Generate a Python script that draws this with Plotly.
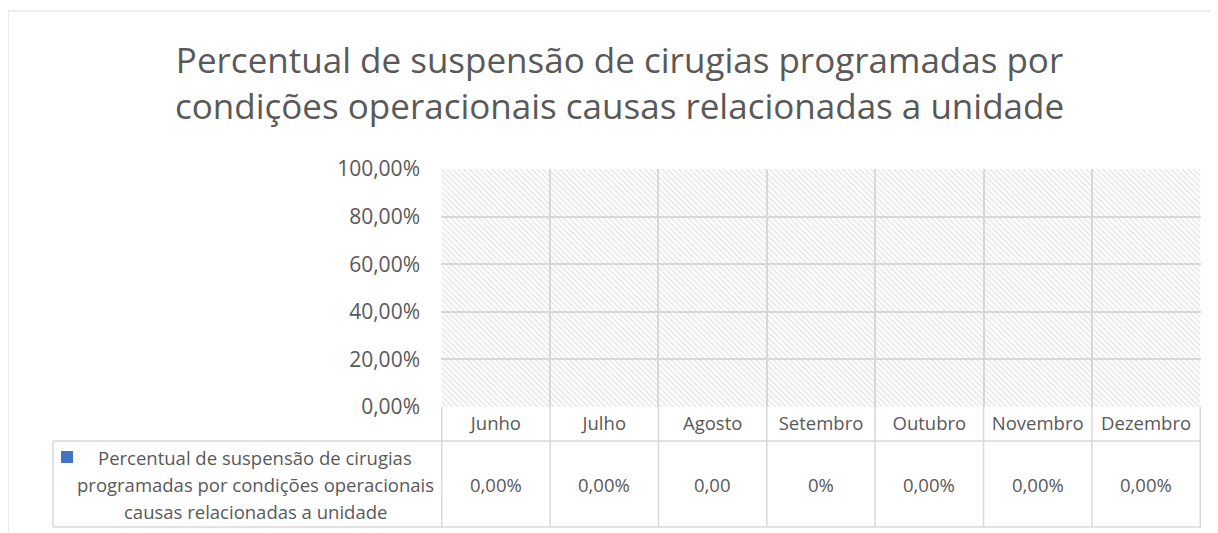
import plotly.graph_objects as go

# ---- data ----
months = ["Junho", "Julho", "Agosto", "Setembro", "Outubro", "Novembro", "Dezembro"]
values = [0, 0, 0, 0, 0, 0, 0]
value_labels = ["0,00%", "0,00%", "0,00", "0%", "0,00%", "0,00%", "0,00%"]
series_name = "Percentual de suspensão de cirugias programadas por condições operacionais causas relacionadas a unidade"
legend_lines = ["Percentual de suspensão de cirugias",
                "programadas por condições operacionais",
                "causas relacionadas a unidade"]
title_text = ("Percentual de suspensão de cirugias programadas por<br>"
              "condições operacionais causas relacionadas a unidade")
y_range = [0, 1]

# ---- styling ----
W, H = 1218, 533
OFF = 8  # page body margin compensation
FONT = "Open Sans"
TXT = "#595959"
GRID = "#D9D9D9"
SERIES_COLOR = "#4472C4"

def px(x):
    return (x - OFF) / W

def py(y):
    return 1 - (y - OFF) / H

PLOT_L, PLOT_R, PLOT_T, PLOT_B = 441, 1201, 169, 407
ROW1_B, ROW2_B = 441, 527
LEG_L = 53

fig = go.Figure()

# hatched plot-area background (Excel pattern fill), spans the axis range
fig.add_trace(go.Bar(
    x=months, y=[y_range[1]] * len(months), width=1,
    marker=dict(color="rgba(0,0,0,0)", line=dict(width=0),
                pattern=dict(shape="\\", fgcolor="#CFCFCF", bgcolor="rgba(0,0,0,0)",
                             size=4, solidity=0.4)),
    hoverinfo="skip", showlegend=False,
))

# data series
fig.add_trace(go.Bar(
    x=months, y=values, name=series_name,
    marker=dict(color=SERIES_COLOR, line=dict(width=0)),
    showlegend=False,
))

shapes = []
# chart frame (cut off on right/bottom)
shapes.append(dict(type="line", xref="paper", yref="paper", x0=px(8), x1=px(W + 20),
                   y0=py(11), y1=py(11), line=dict(color=GRID, width=1)))
shapes.append(dict(type="line", xref="paper", yref="paper", x0=px(8), x1=px(8),
                   y0=py(11), y1=py(H + 20), line=dict(color=GRID, width=1)))

# data table: vertical lines at category boundaries
for i in range(len(months) + 1):
    shapes.append(dict(type="line", xref="x", yref="paper", x0=i - 0.5, x1=i - 0.5,
                       y0=py(PLOT_B), y1=py(ROW2_B), line=dict(color=GRID, width=1.5)))
# horizontal table lines
for yy in (ROW1_B, ROW2_B):
    shapes.append(dict(type="line", xref="paper", yref="paper", x0=px(LEG_L), x1=px(PLOT_R),
                       y0=py(yy), y1=py(yy), line=dict(color=GRID, width=1.5)))
# legend cell left edge
shapes.append(dict(type="line", xref="paper", yref="paper", x0=px(LEG_L), x1=px(LEG_L),
                   y0=py(ROW1_B), y1=py(ROW2_B), line=dict(color=GRID, width=1.5)))
# legend key
shapes.append(dict(type="rect", xref="paper", yref="paper", x0=px(61), x1=px(73),
                   y0=py(451), y1=py(463), fillcolor=SERIES_COLOR, line=dict(width=0)))

annotations = []
# title
annotations.append(dict(text=title_text, xref="paper", yref="paper", x=px(619), y=py(82),
                        xanchor="center", yanchor="middle", showarrow=False, align="center",
                        font=dict(family=FONT, size=35, color=TXT)))
# legend text lines
for k, line in enumerate(legend_lines):
    annotations.append(dict(text=line, xref="paper", yref="paper", x=px(255), y=py(457 + 27 * k),
                            xanchor="center", yanchor="middle", showarrow=False,
                            font=dict(family=FONT, size=18.5, color=TXT)))
# value row
for m, lab in zip(months, value_labels):
    annotations.append(dict(text=lab, xref="x", yref="paper", x=m, y=py((ROW1_B + ROW2_B) / 2),
                            xanchor="center", yanchor="middle", showarrow=False,
                            font=dict(family=FONT, size=18.5, color=TXT)))

fig.update_layout(
    width=W, height=H,
    margin=dict(l=0, r=0, t=0, b=0, autoexpand=False),
    paper_bgcolor="white", plot_bgcolor="white",
    separators=",.",
    barmode="overlay",
    font=dict(family=FONT, color=TXT),
    shapes=shapes, annotations=annotations,
    xaxis=dict(domain=[px(PLOT_L), px(PLOT_R)], type="category", tickson="boundaries",
               automargin=False,
               showgrid=True, gridcolor=GRID, gridwidth=1.5, ticks="", showline=False,
               zeroline=False, tickfont=dict(family=FONT, size=18.5, color=TXT),
               ticklabelstandoff=3, fixedrange=True),
    yaxis=dict(domain=[py(PLOT_B), py(PLOT_T)], range=y_range, tickformat=".2%",
               automargin=False,
               dtick=0.2, tick0=0, showgrid=True, gridcolor=GRID, gridwidth=1.5,
               zeroline=False, showline=False, ticks="",
               tickfont=dict(family=FONT, size=21, color=TXT),
               ticklabelstandoff=20, fixedrange=True),
)

fig.write_html("out.html")
